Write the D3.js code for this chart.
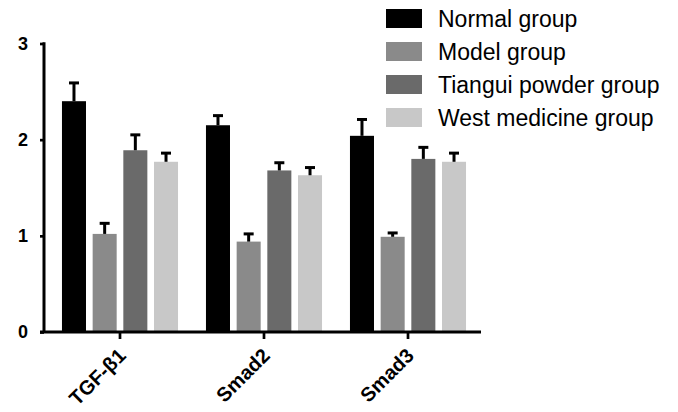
<!DOCTYPE html>
<html><head><meta charset="utf-8">
<script src="https://cdn.jsdelivr.net/npm/d3@7/dist/d3.min.js"></script>
<style>body{margin:0;background:#fff}svg{display:block}</style>
</head><body>
<svg id="c" width="678" height="412"></svg>
<script>
const categories = ["TGF-β1", "Smad2", "Smad3"];
const groups = ["Normal group", "Model group", "Tiangui powder group", "West medicine group"];
const colors = ["#000000", "#8a8a8a", "#6a6a6a", "#c8c8c8"];
const normalVals = [2.40, 2.15, 2.04];
const modelVals = [1.02, 0.94, 0.99];
const tianguiVals = [1.89, 1.68, 1.80];
const westVals = [1.77, 1.63, 1.77];
const normalErr = [0.19, 0.10, 0.17];
const modelErr = [0.11, 0.08, 0.04];
const tianguiErr = [0.16, 0.08, 0.12];
const westErr = [0.09, 0.08, 0.09];
const yTicks = [0, 1, 2, 3];

const values = [normalVals, modelVals, tianguiVals, westVals];
const errs = [normalErr, modelErr, tianguiErr, westErr];

const svg = d3.select("#c");
const font = "'Liberation Sans', Arial, sans-serif";

const y = d3.scaleLinear().domain([0, 3]).range([332, 43.5]);
const x0 = d3.scaleBand().domain(categories).range([48, 480]).paddingInner(0.194).paddingOuter(0.097);
const x1 = d3.scaleBand().domain(groups).range([0, x0.bandwidth()]).paddingInner(0.217);

const data = [];
categories.forEach((c, ci) => groups.forEach((g, gi) => data.push({c, g, gi, v: values[gi][ci], e: errs[gi][ci]})));

// bars
svg.append("g").selectAll("rect").data(data).join("rect")
  .attr("x", d => x0(d.c) + x1(d.g))
  .attr("y", d => y(d.v))
  .attr("width", x1.bandwidth())
  .attr("height", d => y(0) - y(d.v))
  .attr("fill", d => colors[d.gi]);

// error bars
const eg = svg.append("g").attr("stroke", "#000").attr("stroke-width", 3);
data.forEach(d => {
  const cx = x0(d.c) + x1(d.g) + x1.bandwidth() / 2;
  eg.append("line").attr("x1", cx).attr("x2", cx).attr("y1", y(d.v)).attr("y2", y(d.v + d.e));
  eg.append("line").attr("x1", cx - 5).attr("x2", cx + 5).attr("y1", y(d.v + d.e)).attr("y2", y(d.v + d.e));
});

// y axis
const ya = svg.append("g").attr("transform", "translate(44,0)")
  .call(d3.axisLeft(y).tickValues(yTicks).tickFormat(d3.format("d")).tickSize(4).tickPadding(12));
ya.select(".domain").remove();
ya.append("line").attr("x1", 0).attr("x2", 0).attr("y1", y(3) - 1.3).attr("y2", y(0))
  .attr("stroke", "#000").attr("stroke-width", 3);
ya.selectAll(".tick line").attr("stroke", "#000").attr("stroke-width", 2.7);
ya.selectAll("text").attr("font-family", font).attr("font-size", 18).attr("font-weight", "bold").attr("fill", "#000");

// x axis
const xa = svg.append("g").attr("transform", `translate(0,${y(0)})`)
  .call(d3.axisBottom(x0).tickSize(7).tickFormat(""));
xa.select(".domain").remove();
xa.append("line").attr("x1", 40).attr("x2", 481).attr("y1", 0).attr("y2", 0)
  .attr("stroke", "#000").attr("stroke-width", 3);
xa.selectAll(".tick line").attr("stroke", "#000").attr("stroke-width", 2.7);
xa.selectAll(".tick").append("text")
  .attr("transform", "translate(7,25) rotate(-45)")
  .attr("text-anchor", "end")
  .attr("font-family", font).attr("font-size", 20).attr("font-weight", "bold").attr("fill", "#000")
  .text(d => d);

// legend
const lg = svg.append("g").selectAll("g").data(groups).join("g")
  .attr("transform", (d, i) => `translate(386,${9 + i * 33})`);
lg.append("rect").attr("width", 36).attr("height", 19).attr("fill", (d, i) => colors[i]);
lg.append("text").attr("x", 52).attr("y", 18).attr("font-family", font).attr("font-size", 23).attr("fill", "#000").text(d => d);
</script>
</body></html>
